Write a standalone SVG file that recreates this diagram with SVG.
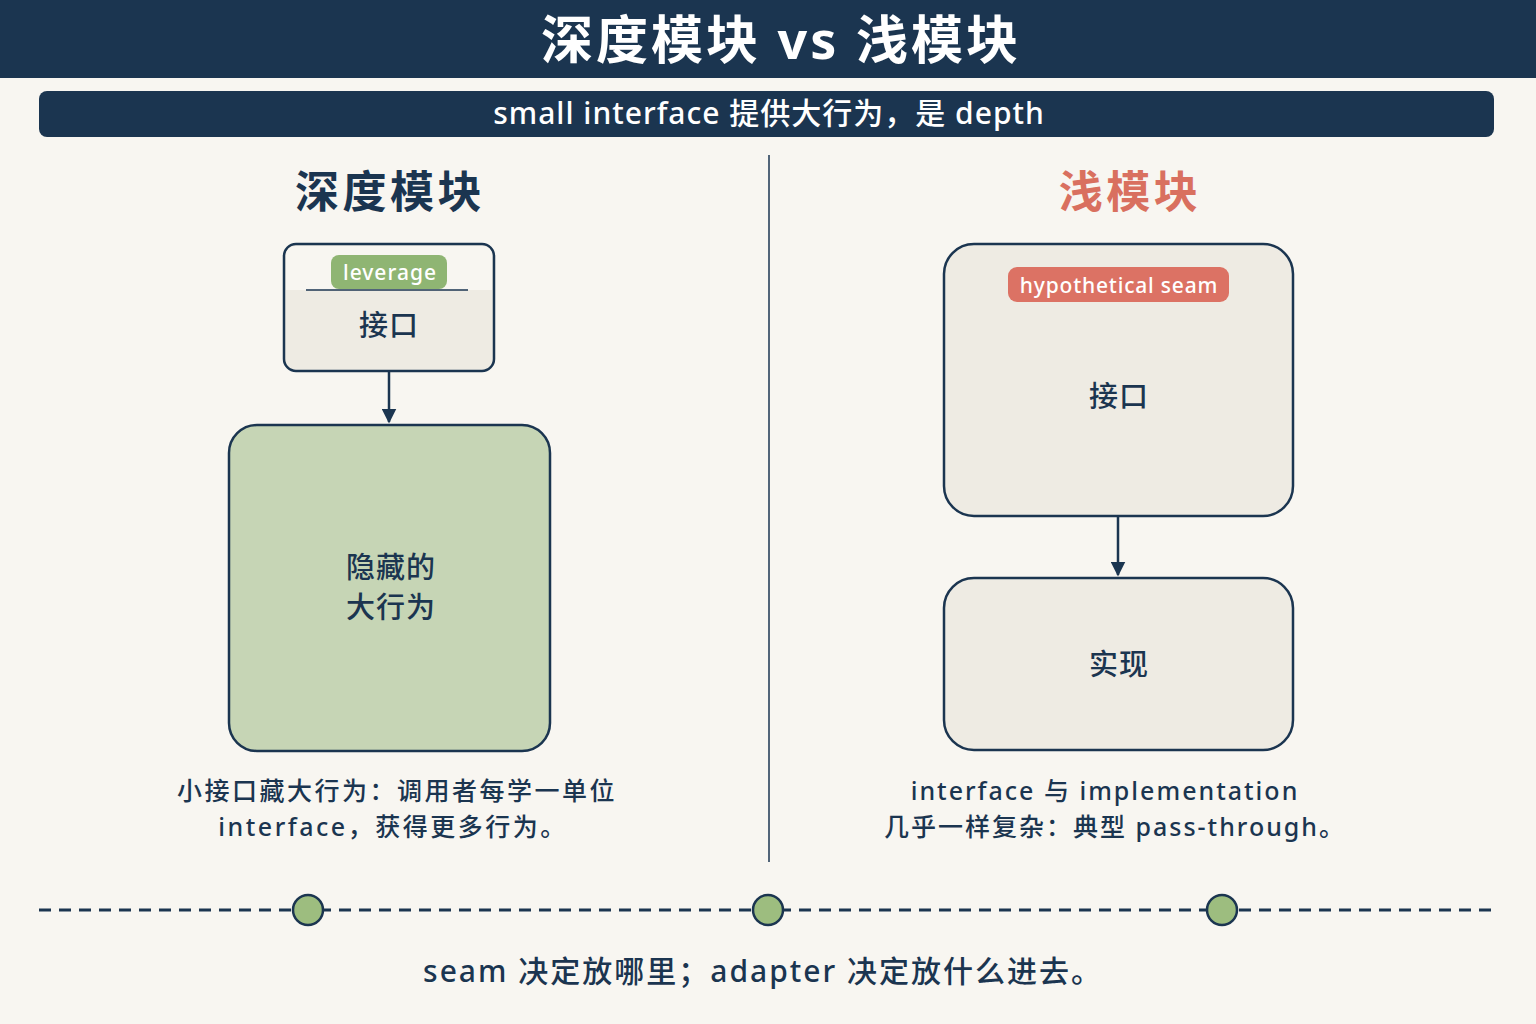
<svg xmlns="http://www.w3.org/2000/svg" width="1536" height="1024" viewBox="0 0 1536 1024">
<defs>
<style>
text{font-family:"Noto Sans","Noto Sans CJK SC",sans-serif;text-anchor:middle;fill:#1b3550}
.box{stroke:#1b3550;stroke-width:2.5}
.w{fill:#ffffff}
.cap{font-size:25px;font-weight:500;letter-spacing:2px}
.conn{stroke:#1b3550;stroke-width:2.5;fill:none}
</style>
<marker id="ah" viewBox="0 0 10 10" refX="9" refY="5" markerWidth="6" markerHeight="6" orient="auto" markerUnits="strokeWidth">
<path d="M0,0 L10,5 L0,10 z" fill="#1b3550"/>
</marker>
</defs>
<rect x="0" y="0" width="1536" height="1024" fill="#f8f6f1"/>
<g id="header">
<rect x="0" y="0" width="1536" height="78" fill="#1b3550"/>
<text x="781" y="59" font-size="52" font-weight="bold" letter-spacing="3" class="w">深度模块 vs 浅模块</text>
<rect x="39" y="91" width="1455" height="46" rx="8" fill="#1b3550"/>
<text x="769" y="124" font-size="30" font-weight="500" letter-spacing="1" class="w">small interface 提供大行为，是 depth</text>
</g>
<line x1="769" y1="155" x2="769" y2="862" stroke="#1b3550" stroke-width="1.5"/>
<g id="left-title"><text x="390" y="208" font-size="44" font-weight="bold" letter-spacing="3.5" fill="#1e3d5c">深度模块</text></g>
<g id="right-title"><text x="1130" y="208" font-size="44" font-weight="bold" letter-spacing="3.5" style="fill:#d9705f">浅模块</text></g>
<g id="deep-interface">
<rect x="284" y="244" width="210" height="127" rx="12" fill="#eeebe3" class="box"/>
<path d="M286,290 V256 Q286,246 296,246 H482 Q492,246 492,256 V290 Z" fill="#f8f6f1"/>
<line x1="306" y1="290" x2="468" y2="290" stroke="#1b3550" stroke-width="1.5"/>
<rect x="331" y="255" width="116" height="34" rx="8" fill="#8fb573"/>
<text x="390" y="280" font-size="21" font-weight="500" letter-spacing="1" class="w">leverage</text>
<text x="389" y="336" font-size="29" font-weight="500" letter-spacing="1">接口</text>
</g>
<g id="deep-behavior">
<rect x="229" y="425" width="321" height="326" rx="28" fill="#c6d5b5" class="box"/>
<text x="391" y="578" font-size="29" font-weight="500" letter-spacing="1">隐藏的</text>
<text x="391" y="618" font-size="29" font-weight="500" letter-spacing="1">大行为</text>
</g>
<g id="deep-caption">
<text x="397" y="800" class="cap" style="letter-spacing:2.5px">小接口藏大行为：调用者每学一单位</text>
<text x="393" y="836" class="cap" style="letter-spacing:2.5px">interface，获得更多行为。</text>
</g>
<g id="shallow-interface">
<rect x="944" y="244" width="349" height="272" rx="30" fill="#eeebe3" class="box"/>
<rect x="1008" y="267" width="221" height="35" rx="9" fill="#dc7264"/>
<text x="1119" y="293" font-size="21" font-weight="500" letter-spacing="0.8" class="w">hypothetical seam</text>
<text x="1119" y="407" font-size="29" font-weight="500" letter-spacing="1">接口</text>
</g>
<g id="shallow-impl">
<rect x="944" y="578" width="349" height="172" rx="30" fill="#eeebe3" class="box"/>
<text x="1119" y="675" font-size="29" font-weight="500" letter-spacing="1">实现</text>
</g>
<g id="shallow-caption">
<text x="1105" y="800" class="cap">interface 与 implementation</text>
<text x="1115" y="836" class="cap">几乎一样复杂：典型 pass-through。</text>
</g>
<g id="connectors">
<line x1="389" y1="372" x2="389" y2="422" class="conn" marker-end="url(#ah)"/>
<line x1="1118" y1="517" x2="1118" y2="575" class="conn" marker-end="url(#ah)"/>
</g>
<g id="timeline">
<line x1="39" y1="910" x2="1494" y2="910" stroke="#1b3550" stroke-width="3" stroke-dasharray="12 8"/>
<circle cx="308" cy="910" r="15" fill="#9dbd7f" stroke="#1b3550" stroke-width="2.5"/>
<circle cx="768" cy="910" r="15" fill="#9dbd7f" stroke="#1b3550" stroke-width="2.5"/>
<circle cx="1222" cy="910" r="15" fill="#9dbd7f" stroke="#1b3550" stroke-width="2.5"/>
</g>
<g id="footer"><text x="763" y="982" font-size="30" font-weight="500" letter-spacing="2">seam 决定放哪里；adapter 决定放什么进去。</text></g>
</svg>
